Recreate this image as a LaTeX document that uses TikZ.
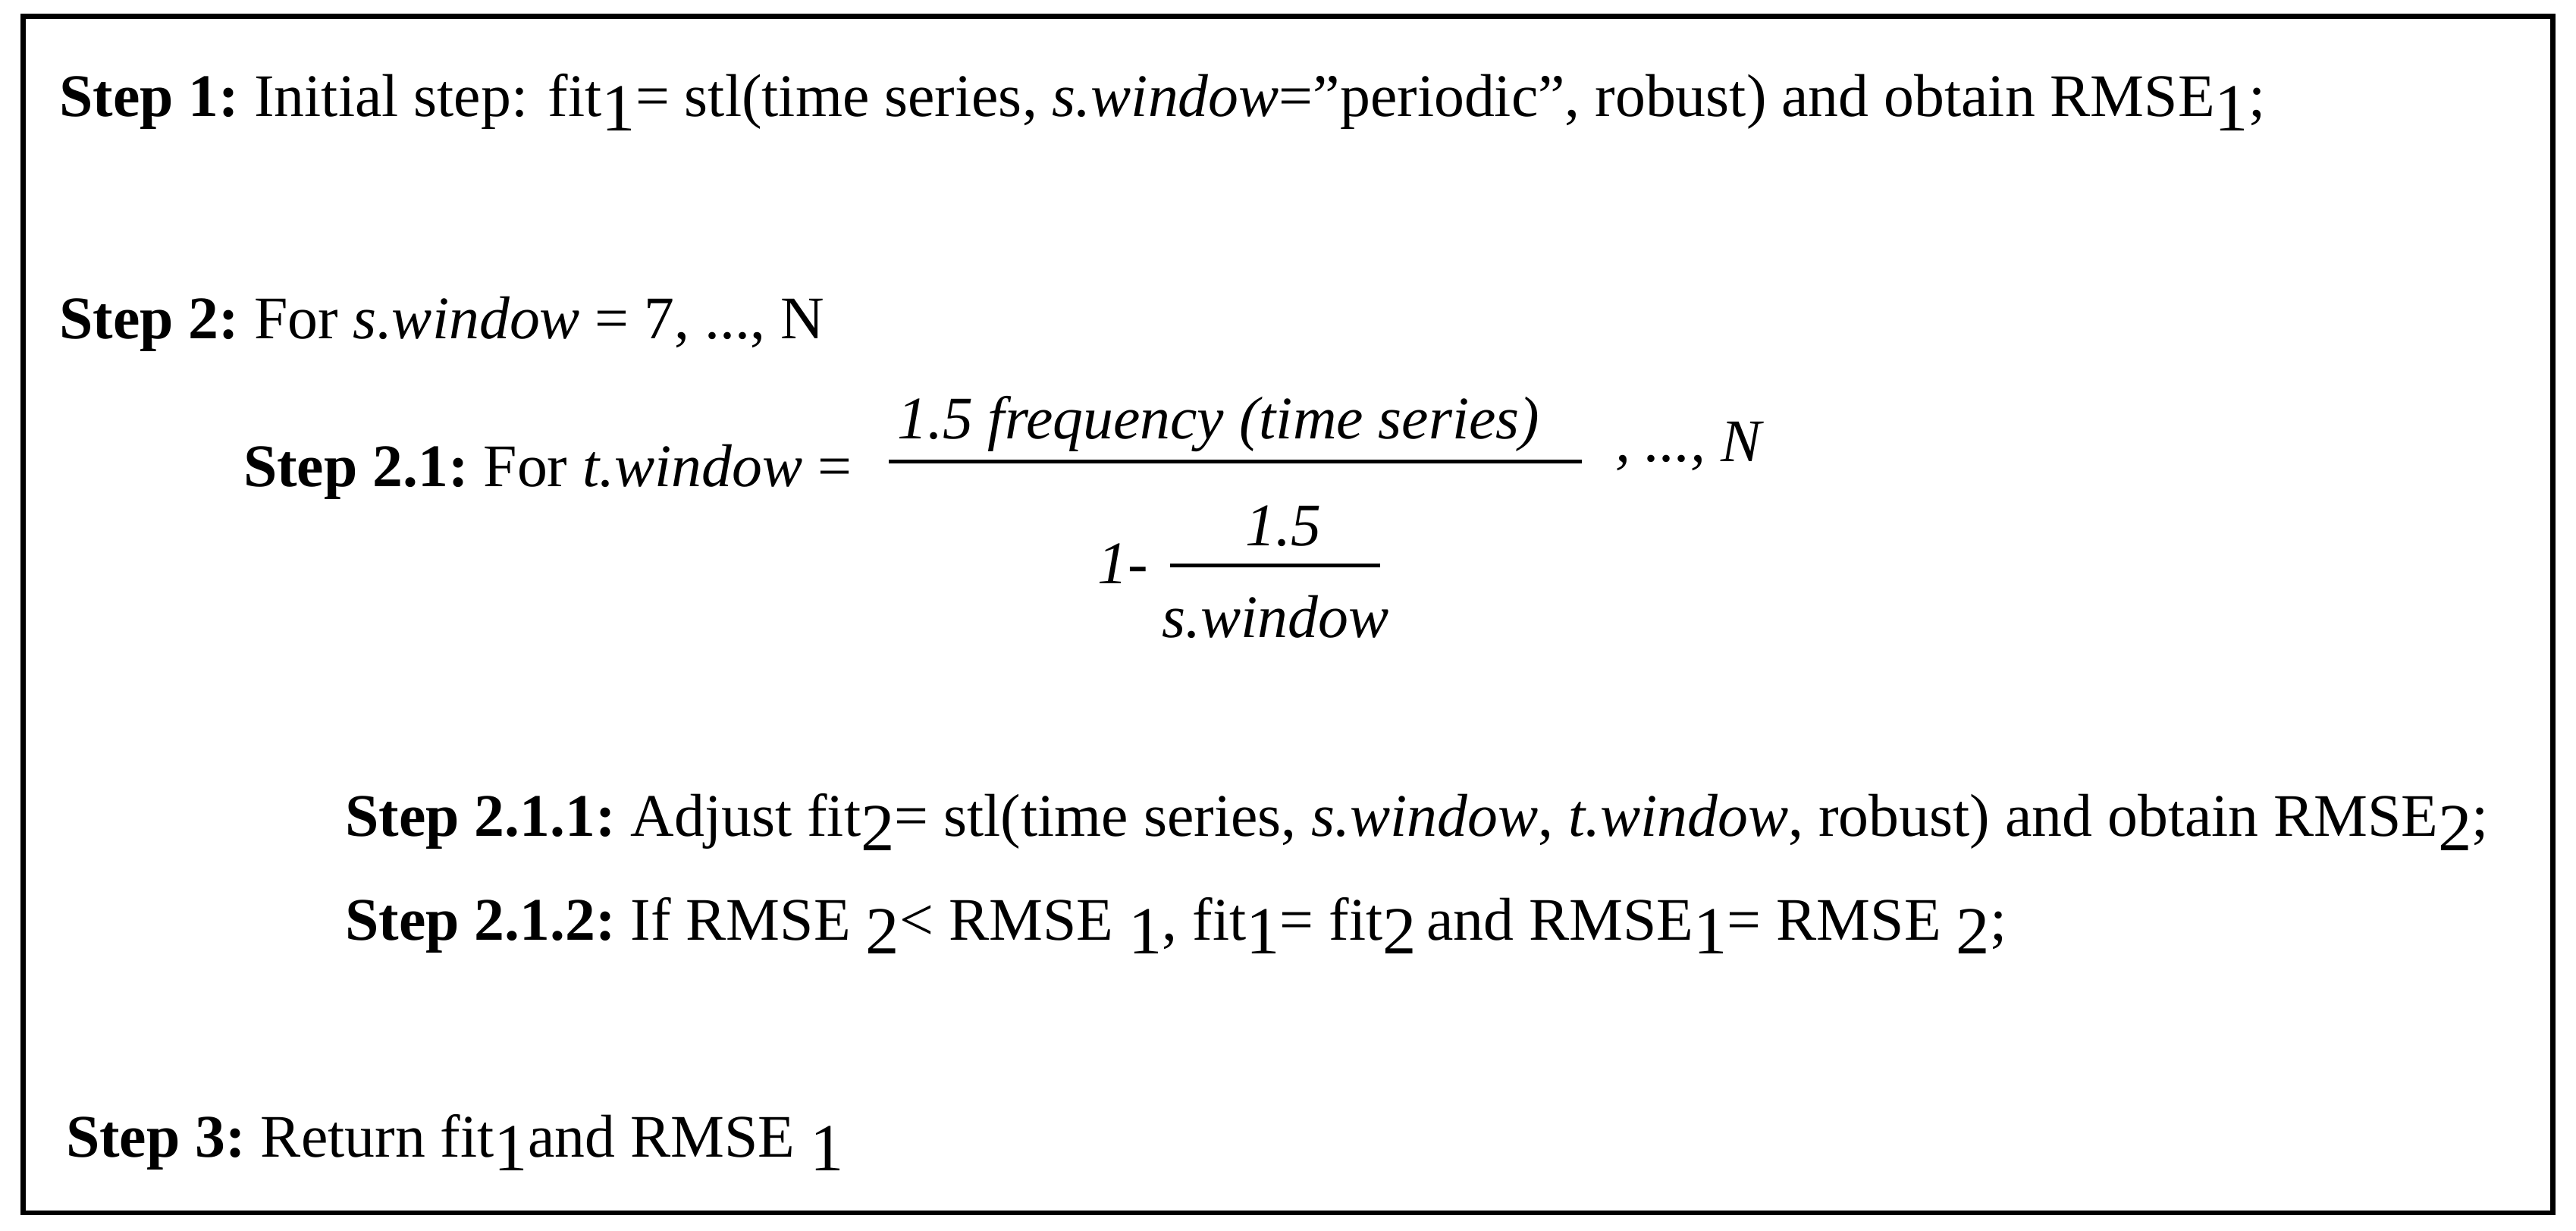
\documentclass[tikz,border=0pt]{standalone}
\usepackage{fontspec}
\setmainfont{Liberation Serif}
\newcommand{\sbx}[1]{\raisebox{-0.5ex}{\fontsize{41}{41}\selectfont #1}}
\begin{document}
\begin{tikzpicture}[x=1pt,y=-1pt,
  txt/.style={anchor=base west,inner sep=0pt,font=\fontsize{36.8}{42}\selectfont},
  bar/.style={line width=2.2pt}]
\useasboundingbox (0,0) rectangle (1568,749);
\draw[line width=3pt] (14,10) rectangle (1554,738);
\node[txt] (s1) at (36,71) {\textbf{Step 1:}~Initial step: fit\sbx{1}= stl(time series, \textit{s.window}=”periodic”, robust) and obtain RMSE\sbx{1};};
\node[txt] (s2) at (36,206) {\textbf{Step 2:}~For \textit{s.window} = 7, ..., N};
\node[txt] (s21) at (148,296) {\textbf{Step 2.1:}~For \textit{t.window} =};
\node[txt] (num) at (546,267) {\textit{1.5 frequency (time series)}};
\draw[bar] (541,281) -- (963,281);
\node[txt] (dots) at (983,281) {\textit{, ..., N}};
\node[txt] (one) at (668,355) {\textit{1-}};
\node[txt] (n2) at (758,332) {\textit{1.5}};
\draw[bar] (712,344) -- (840,344);
\node[txt] (sw) at (707,388) {\textit{s.window}};
\node[txt] (s211) at (210,509) {\textbf{Step 2.1.1:}~Adjust fit\sbx{2}= stl(time series, \textit{s.window}, \textit{t.window}, robust) and obtain RMSE\sbx{2};};
\node[txt] (s212) at (210,572) {\textbf{Step 2.1.2:}~If RMSE \sbx{2}< RMSE \sbx{1}, fit\sbx{1}= fit\sbx{2}\,and RMSE\sbx{1}= RMSE \sbx{2};};
\node[txt] (s3) at (40,704) {\textbf{Step 3:}~Return fit\sbx{1}and RMSE \sbx{1}};
\end{tikzpicture}
\end{document}
